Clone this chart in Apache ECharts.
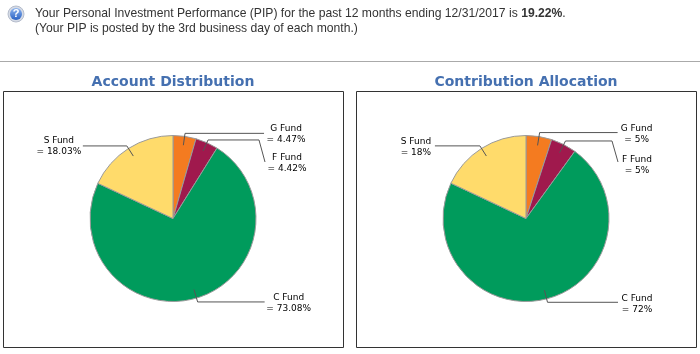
<!DOCTYPE html>
<html>
<head>
<meta charset="utf-8">
<style>
    html, body { margin: 0; padding: 0; background: #fff; }
    #pieChart { width: 700px; height: 354px; }
</style>
<script src="https://cdn.jsdelivr.net/npm/echarts@6/dist/echarts.min.js"></script>
</head>
<body>
<div id="pieChart"></div>
<script>
var fundNames = ['G Fund', 'F Fund', 'C Fund', 'S Fund'];
var accountValues = [4.47, 4.42, 73.08, 18.03];
var contributionValues = [5, 5, 72, 18];
var fundColors = ['#f47b20', '#a0194d', '#009b5c', '#ffdb6b'];
var chartTitles = ['Account Distribution', 'Contribution Allocation'];

// leader line per slice: [first segment, second segment, label box width, label top padding]
var accountLeaders = [[12, 79, 40, 2], [12, 51, 40, 46], [13, 67, 44, 2], [12, 44, 44, 0]];
var contributionLeaders = [[13, 78, 34, 4], [13, 46.5, 34, 48], [12.5, 70.5, 34, 4], [12, 45, 34, 2]];

var pieSeries = function (center, values) {
    return {
        type: 'pie',
        z: 2,
        center: center,
        radius: [0, 83],
        startAngle: 90,
        silent: true,
        label: { show: false },
        labelLine: { show: false },
        itemStyle: { borderColor: '#9a9a9a', borderWidth: 1 },
        data: values.map(function (v, i) {
            return { name: fundNames[i], value: v, itemStyle: { color: fundColors[i] } };
        })
    };
};

// transparent pie: the leader lines start inside the slices, not on the rim
var labelSeries = function (center, values, leaders) {
    return {
        type: 'pie',
        z: 3,
        center: center,
        radius: [0, 74],
        startAngle: 90,
        silent: true,
        avoidLabelOverlap: false,
        itemStyle: { color: 'transparent' },
        data: values.map(function (v, i) {
            var isF = fundNames[i] === 'F Fund';
            return {
                name: fundNames[i],
                value: v,
                labelLine: {
                    show: true,
                    length: leaders[i][0],
                    length2: leaders[i][1],
                    lineStyle: { color: '#555', width: 1 }
                },
                label: {
                    show: true,
                    position: 'outside',
                    distanceToLabelLine: 2,
                    padding: [leaders[i][3], 0, 0, isF ? 6 : 0],
                    formatter: '{a|' + fundNames[i] + '}\n{a|= ' + v + '%}',
                    rich: {
                        a: {
                            width: leaders[i][2],
                            align: 'center',
                            fontFamily: 'DejaVu Sans',
                            fontSize: 9,
                            lineHeight: 11,
                            color: '#000'
                        }
                    }
                }
            };
        })
    };
};

var init_pieChart = function () {
    var myChart = echarts.init(document.getElementById('pieChart'));
    var option = {
        animation: false,
        title: [{
            text: chartTitles[0],
            left: 168,
            top: 70,
            textAlign: 'center',
            textStyle: { fontFamily: 'DejaVu Sans', fontSize: 14, fontWeight: 'bold', color: '#4570b0' }
        }, {
            text: chartTitles[1],
            left: 521,
            top: 70,
            textAlign: 'center',
            textStyle: { fontFamily: 'DejaVu Sans', fontSize: 14, fontWeight: 'bold', color: '#4570b0' }
        }],
        series: [
            pieSeries([173, 218.5], accountValues),
            labelSeries([173, 218.5], accountValues, accountLeaders),
            pieSeries([526, 218.5], contributionValues),
            labelSeries([526, 218.5], contributionValues, contributionLeaders)
        ],
        graphic: [
            { type: 'rect', shape: { x: 3.5, y: 91.5, width: 340, height: 256 }, style: { fill: 'none', stroke: '#333', lineWidth: 1 } },
            { type: 'rect', shape: { x: 356.5, y: 91.5, width: 340, height: 256 }, style: { fill: 'none', stroke: '#333', lineWidth: 1 } },
            { type: 'line', shape: { x1: 0, y1: 61.5, x2: 700, y2: 61.5 }, style: { stroke: '#aaa', lineWidth: 1 } },
            // last bend of the F Fund leaders
            { type: 'line', shape: { x1: 259, y1: 140, x2: 265, y2: 162 }, style: { stroke: '#555', lineWidth: 1 } },
            { type: 'line', shape: { x1: 612, y1: 141, x2: 618, y2: 162 }, style: { stroke: '#555', lineWidth: 1 } },
            // help icon
            { type: 'circle', shape: { cx: 16, cy: 14, r: 8 }, style: { fill: '#d5dbe6', stroke: '#b5bccb', lineWidth: 1 } },
            {
                type: 'circle',
                shape: { cx: 16, cy: 14, r: 6 },
                style: {
                    fill: new echarts.graphic.LinearGradient(0, 0, 0, 1, [
                        { offset: 0, color: '#8db4ee' },
                        { offset: 1, color: '#2a62c4' }
                    ])
                }
            },
            {
                type: 'text',
                x: 16,
                y: 14,
                style: { text: '?', fill: '#fff', font: 'bold 11px "Liberation Sans"', align: 'center', verticalAlign: 'middle' }
            },
            {
                type: 'text',
                x: 35,
                y: 8,
                style: {
                    text: '{n|Your Personal Investment Performance (PIP) for the past 12 months ending 12/31/2017 is }{b|19.22%}{n|.}',
                    rich: {
                        n: { font: '12.15px "Liberation Sans"', fill: '#333' },
                        b: { font: 'bold 12.15px "Liberation Sans"', fill: '#333' }
                    }
                }
            },
            {
                type: 'text',
                x: 35,
                y: 23,
                style: { text: '(Your PIP is posted by the 3rd business day of each month.)', font: '12.15px "Liberation Sans"', fill: '#333' }
            }
        ]
    };
    myChart.setOption(option);
};

init_pieChart();
</script>
</body>
</html>
